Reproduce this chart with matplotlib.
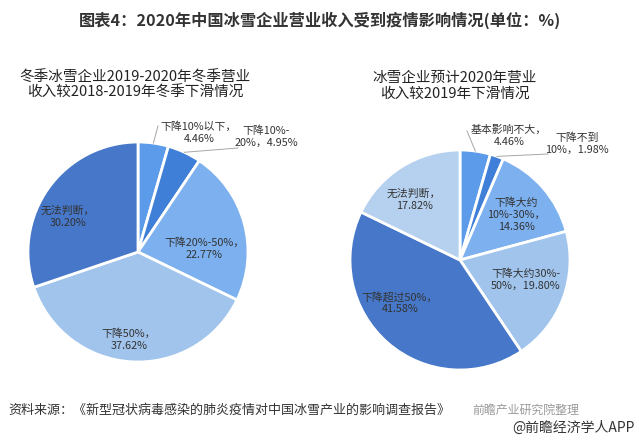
import numpy as np
import matplotlib
matplotlib.use('Agg')
import matplotlib.pyplot as plt

plt.rcParams['font.family'] = ['Noto Sans CJK SC', 'DejaVu Sans']

# ---------------------------------------------------------
# DATA
# ---------------------------------------------------------
title = '图表4：2020年中国冰雪企业营业收入受到疫情影响情况(单位：%)'

left_title = '冬季冰雪企业2019-2020年冬季营业\n收入较2018-2019年冬季下滑情况'
left_labels = ['下降10%以下，\n4.46%', '下降10%-\n20%，4.95%', '下降20%-50%，\n22.77%',
               '下降50%，\n37.62%', '无法判断，\n30.20%']
left_values = [4.46, 4.95, 22.77, 37.62, 30.20]

right_title = '冰雪企业预计2020年营业\n收入较2019年下滑情况'
right_labels = ['基本影响不大，\n4.46%', '下降不到\n10%，1.98%', '下降大约\n10%-30%，\n14.36%',
                '下降大约30%-\n50%，19.80%', '下降超过50%，\n41.58%', '无法判断，\n17.82%']
right_values = [4.46, 1.98, 14.36, 19.80, 41.58, 17.82]

source = '资料来源：《新型冠状病毒感染的肺炎疫情对中国冰雪产业的影响调查报告》'
source2 = '前瞻产业研究院整理'
brand = '@前瞻经济学人APP'

# ---------------------------------------------------------
# STYLE / LAYOUT (pixel coordinates, y measured from top)
# ---------------------------------------------------------
W, H = 639, 442
left_colors = ['#5b9bea', '#3f7fd8', '#7cb0ee', '#a0c4ec', '#4677c8']
right_colors = ['#5b9bea', '#3f7fd8', '#7cb0ee', '#a0c4ec', '#4677c8', '#b6d1ef']

left_center, right_center, radius = (138, 252), (460, 260), 110

# label anchor points (centre of text block) and which ones get leader lines
left_label_pos = [(199, 133), (266, 137), (204, 249), (129, 340), (68, 217)]
left_leaders = {0: (158, 126), 1: (238, 148)}
right_label_pos = [(509, 136), (577, 144), (516, 215), (526, 280), (400, 303), (414, 200)]
right_leaders = {0: (467, 131), 1: (548, 154)}

fig = plt.figure(figsize=(W / 100, H / 100), dpi=100)
fig.patch.set_facecolor('white')
ax = fig.add_axes([0, 0, 1, 1])


def draw_pie(values, colors, labels, center, label_pos, leaders):
    cx, cy = center[0], H - center[1]
    wedges, _ = ax.pie(values, colors=colors, startangle=90, counterclock=False,
                       center=(cx, cy), radius=radius,
                       wedgeprops=dict(edgecolor='white', linewidth=2))
    for i, (w, lab) in enumerate(zip(wedges, labels)):
        lx, ly = label_pos[i]
        ax.text(lx, H - ly, lab, ha='center', va='center', fontsize=7.8,
                color='#333333', linespacing=1.25)
        if i in leaders:
            ang = np.deg2rad((w.theta1 + w.theta2) / 2)
            sx = cx + radius * np.cos(ang)
            sy = cy + radius * np.sin(ang)
            ex, ey = leaders[i]
            ax.plot([sx, ex], [sy, H - ey], color='#a6a6a6', linewidth=0.7)


draw_pie(left_values, left_colors, left_labels, left_center, left_label_pos, left_leaders)
draw_pie(right_values, right_colors, right_labels, right_center, right_label_pos, right_leaders)

ax.set_xlim(0, W)
ax.set_ylim(0, H)
ax.set_aspect('equal')
ax.axis('off')

ax.text(W / 2, H - 20, title, ha='center', va='center', fontsize=11.7,
        fontweight='bold', color='#333333')
ax.text(135, H - 85, left_title, ha='center', va='center', fontsize=10.5,
        color='#222222', linespacing=1.2)
ax.text(455, H - 86, right_title, ha='center', va='center', fontsize=10.5,
        color='#222222', linespacing=1.2)

ax.text(8, H - 410, source, ha='left', va='center', fontsize=9.4, color='#333333')
ax.text(472, H - 410, source2, ha='left', va='center', fontsize=8.6, color='#9a9a9a')
ax.text(635, H - 428, brand, ha='right', va='center', fontsize=10, color='#333333')

fig.savefig('out.png', dpi=100, facecolor='white')
